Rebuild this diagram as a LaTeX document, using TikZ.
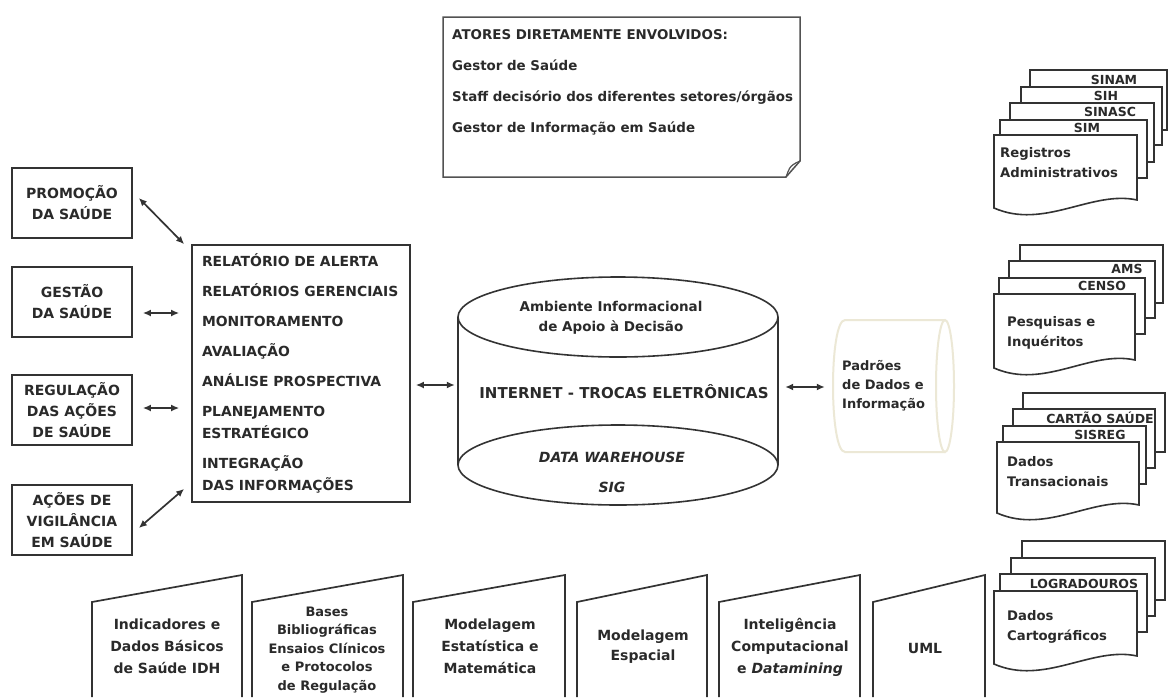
\documentclass[tikz,border=0pt]{standalone}
\usepackage{fontspec}
\setmainfont{DejaVu Sans}[ItalicFont={DejaVu Sans Oblique},BoldItalicFont={DejaVu Sans Bold Oblique}]
\usetikzlibrary{arrows.meta,calc}
\definecolor{ink}{HTML}{2A2A2A}
\definecolor{edge}{HTML}{333333}
\definecolor{pale}{HTML}{ECE8D6}
% front sheet of a document stack: left, top, right, bottom-left y
\newcommand\frontsheet[4]{%
  \draw[card] (#1,#2) -- (#3,#2) -- (#3,{#4-8})
    .. controls ({#3-45},{#4-18}) and ({#1+50},{#4+22}) .. (#1,#4) -- cycle;}
\begin{document}
\begin{tikzpicture}[x=1pt,y=-1pt,
  every node/.style={text=ink, inner sep=0pt},
  lbox/.style={draw=edge, line width=1.7pt, minimum width=120pt, minimum height=70pt,
    align=center, font=\fontsize{14}{21}\selectfont\bfseries},
  listbox/.style={draw=edge, line width=1.7pt, minimum width=218pt, minimum height=257pt,
    text width=198pt, inner xsep=10pt, align=left, font=\fontsize{13.9}{22}\selectfont\bfseries},
  dbl/.style={draw=edge, line width=1.7pt, {Latex[length=8pt,width=7pt]}-{Latex[length=8pt,width=7pt]}},
  card/.style={draw=edge, line width=1.6pt, fill=white},
  cardlabel/.style={font=\fontsize{12.5}{14}\selectfont\bfseries},
  doctext/.style={anchor=west, align=left, font=\fontsize{13.2}{20}\selectfont\bfseries},
  panel/.style={draw=edge, line width=1.7pt},
  paneltext/.style={align=center, font=\fontsize{14}{22}\selectfont\bfseries},
]
\useasboundingbox[fill=white] (0,0) rectangle (1168,697);

% --- actors note with curled corner
\draw[draw=edge!85, line width=1.5pt] (443,17) -- (800,17) -- (800,161) -- (786,177) -- (443,177) -- cycle;
\draw[draw=edge!85, line width=1.2pt] (786,177) .. controls (789,170) and (788,166) .. (800,161);
\node[anchor=north west, align=left, font=\fontsize{13.4}{31}\selectfont\bfseries] (actors) at (452,29)
  {ATORES DIRETAMENTE ENVOLVIDOS:\\Gestor de Saúde\\Staff decisório dos diferentes setores/órgãos\\Gestor de Informação em Saúde};

% --- action areas
\node[lbox] (promo)  at (72,203) {PROMOÇÃO\\DA SAÚDE};
\node[lbox] (gestao) at (72,302) {GESTÃO\\DA SAÚDE};
\node[lbox] (regul)  at (72,410) {REGULAÇÃO\\DAS AÇÕES\\DE SAÚDE};
\node[lbox] (vigil)  at (72,520) {AÇÕES DE\\VIGILÂNCIA\\EM SAÚDE};

% --- products
\node[listbox] (list) at (301,373.5) {RELATÓRIO DE ALERTA\\[8pt]RELATÓRIOS GERENCIAIS\\[8pt]MONITORAMENTO\\[8pt]AVALIAÇÃO\\[8pt]ANÁLISE PROSPECTIVA\\[8pt]PLANEJAMENTO\\ESTRATÉGICO\\[8pt]INTEGRAÇÃO\\DAS INFORMAÇÕES};

\draw[dbl] ($(promo.east)+(6,-5)$) -- ($(list.north west)+(-7,0)$);
\draw[dbl] ($(gestao.east)+(10,11)$) -- ($(list.west |- gestao.east)+(-12,11)$);
\draw[dbl] ($(regul.east)+(10,-2)$) -- ($(list.west |- regul.east)+(-12,-2)$);
\draw[dbl] ($(vigil.east)+(6,8)$) -- ($(list.south west)+(-7,-14)$);

% --- central data store
\node[minimum width=320pt, minimum height=228pt] (dw) at (618,391) {};
\draw[draw=edge, line width=1.6pt] (458,317) -- (458,465) (778,317) -- (778,465);
\draw[draw=edge, line width=1.6pt] (618,317) ellipse [x radius=160, y radius=40];
\draw[draw=edge, line width=1.6pt] (618,465) ellipse [x radius=160, y radius=40];
\node[align=center, font=\fontsize{13.5}{20}\selectfont\bfseries] (amb) at (611,318) {Ambiente Informacional\\de Apoio à Decisão};
\node[font=\fontsize{15}{18}\selectfont\bfseries] (net) at (624,392) {INTERNET - TROCAS ELETRÔNICAS};
\node[align=center, font=\fontsize{14}{30}\selectfont\bfseries\itshape] (dwh) at (612,472) {DATA WAREHOUSE\\SIG};

% --- standards drum
\node[minimum width=122pt, minimum height=134pt] (pad) at (894,386) {};
\draw[draw=pale, line width=2pt] (945,320) -- (845,320) .. controls (829,320) and (829,452) .. (845,452) -- (945,452);
\draw[draw=pale, line width=2pt] (945,386) ellipse [x radius=9, y radius=66];
\node[anchor=west, align=left, font=\fontsize{13}{19}\selectfont\bfseries] (padtext) at (842,386) {Padrões\\de Dados e\\Informação};

\draw[dbl] ($(list.east)+(5,11.5)$) -- ($(dw.west)+(-3,-6)$);
\draw[dbl] ($(dw.east)+(7,-4)$) -- ($(pad.west)+(-8,1)$);

% --- administrative records
\draw[card] (1030,70) rectangle (1167,130);
\draw[card] (1021,87) rectangle (1162,145);
\draw[card] (1010,103) rectangle (1154,162);
\draw[card] (1000,120) rectangle (1147,178);
\frontsheet{994}{135}{1137}{208}
\node[cardlabel] (sinam) at (1114,80) {SINAM};
\node[cardlabel] (sih) at (1106,96) {SIH};
\node[cardlabel] (sinasc) at (1110,112) {SINASC};
\node[cardlabel] (sim) at (1087,128) {SIM};
\node[doctext] (reg) at (1000,163) {Registros\\Administrativos};

% --- surveys
\draw[card] (1020,245) rectangle (1163,303);
\draw[card] (1009,261) rectangle (1155,318);
\draw[card] (999,278) rectangle (1145,334);
\frontsheet{994}{294}{1135}{368}
\node[cardlabel] (ams) at (1127,269) {AMS};
\node[cardlabel] (censo) at (1102,286) {CENSO};
\node[doctext] (pesq) at (1007,333) {Pesquisas e\\Inquéritos};

% --- transactional data
\draw[card] (1023,393) rectangle (1165,452);
\draw[card] (1013,409) rectangle (1155,468);
\draw[card] (1003,426) rectangle (1146,484);
\frontsheet{997}{442}{1139}{513}
\node[cardlabel] (cartao) at (1100,418) {CARTÃO SAÚDE};
\node[cardlabel] (sisreg) at (1100,435) {SISREG};
\node[doctext] (trans) at (1007,472) {Dados\\Transacionais};

% --- cartographic data
\draw[card] (1022,541) rectangle (1165,600);
\draw[card] (1011,558) rectangle (1155,616);
\draw[card] (1000,574) rectangle (1147,632);
\frontsheet{994}{591}{1137}{664}
\node[cardlabel] (logr) at (1084,584) {LOGRADOUROS};
\node[doctext] (carto) at (1007,627) {Dados\\Cartográficos};

% --- methods and sources
\draw[panel] (92,697) -- (92,602) -- (242,575) -- (242,697);
\draw[panel] (252,697) -- (252,602) -- (403,575) -- (403,697);
\draw[panel] (413,697) -- (413,602) -- (565,575) -- (565,697);
\draw[panel] (577,697) -- (577,602) -- (707,575) -- (707,697);
\draw[panel] (719,697) -- (719,602) -- (860,575) -- (860,697);
\draw[panel] (873,697) -- (873,602) -- (985,575) -- (985,697);
\node[paneltext] (p1) at (167,646) {Indicadores e\\Dados Básicos\\de Saúde IDH};
\node[paneltext, font=\fontsize{13}{18.5}\selectfont\bfseries] (p2) at (327,650) {Bases\\Bibliográficas\\Ensaios Clínicos\\e Protocolos\\de Regulação};
\node[paneltext] (p3) at (490,646) {Modelagem\\Estatística e\\Matemática};
\node[paneltext, font=\fontsize{14}{20}\selectfont\bfseries] (p4) at (643,647) {Modelagem\\Espacial};
\node[paneltext] (p5) at (790,647) {Inteligência\\Computacional\\e \textit{Datamining}};
\node[paneltext] (p6) at (925,648) {UML};
\end{tikzpicture}
\end{document}
